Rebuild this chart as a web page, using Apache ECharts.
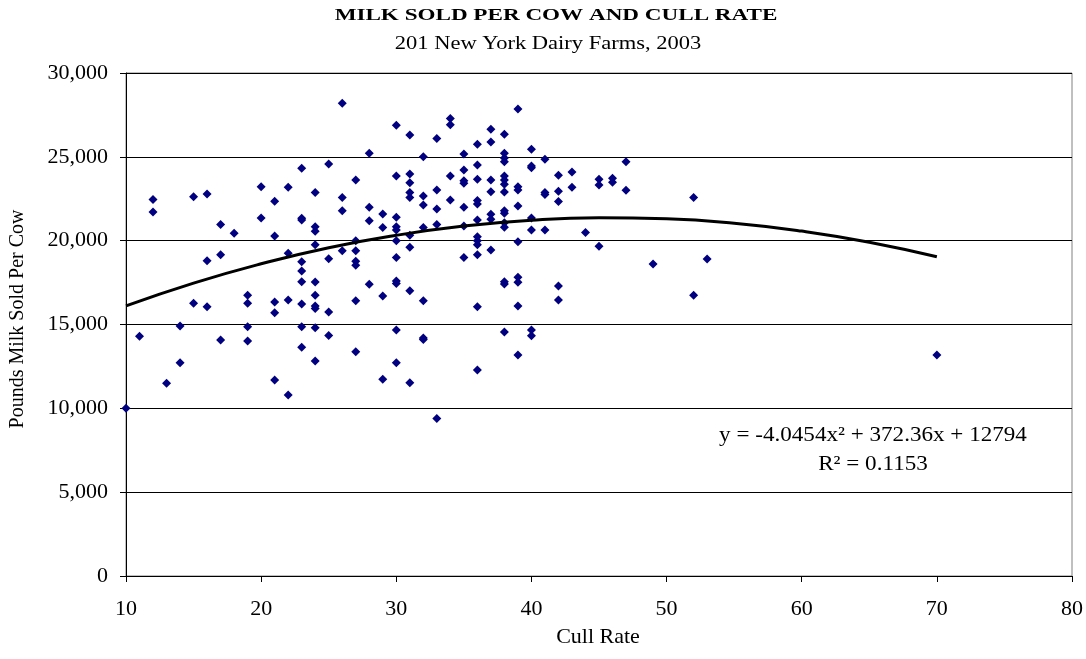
<!DOCTYPE html>
<html>
<head>
<meta charset="utf-8">
<script src="https://cdn.jsdelivr.net/npm/echarts@6/dist/echarts.min.js"></script>
<style>html,body{margin:0;padding:0;background:#fff}#c{width:1086px;height:659px}</style>
</head>
<body>
<div id="c"></div>
<script>
// Farm data: [cull rate, pounds milk sold per cow]
const cullRate = [
10,11,12,12,13,14,14,15,15,16,16,16,17,17,17,18,19,19,19,19,20,20,
21,21,21,21,21,22,22,22,22,
23,23,23,23,23,23,23,23,23,
24,24,24,24,24,24,24,24,24,24,
25,25,25,25,26,26,26,26,
27,27,27,27,27,27,27,28,28,28,28,29,29,29,29,
30,30,30,30,30,30,30,30,30,30,30,
31,31,31,31,31,31,31,31,31,
32,32,32,32,32,32,32,33,33,33,33,33,34,34,34,34,
35,35,35,35,35,35,35,
36,36,36,36,36,36,36,36,36,36,36,36,
37,37,37,37,37,37,37,
38,38,38,38,38,38,38,38,38,38,38,38,38,38,38,
39,39,39,39,39,39,39,39,39,
40,40,40,40,40,40,40,41,41,41,41,42,42,42,42,42,43,43,44,45,45,45,46,46,47,47,49,52,52,53,70
];
const milkPerCow = [
10000,14300,22460,21710,11490,14910,12720,22620,16260,22780,18800,16060,20970,19160,14080,20440,16740,16260,14870,14020,23220,21350,
22350,20280,16340,15700,11690,23180,19250,16460,10800,
24320,21330,21230,18750,18190,17550,16220,14870,13640,
22880,20830,20560,19760,17530,16740,16100,15960,14810,12820,
24570,18920,15750,14350,28190,22580,21790,19400,
23620,20000,19400,18770,18530,16420,13380,25210,21990,21190,17400,21590,20780,16700,11730,
26880,23860,21390,20830,20640,20000,18990,17590,17450,14670,12720,
26300,23980,23460,22880,22580,20320,19600,17020,11530,
25010,22660,22130,20780,16420,14200,14100,26100,23020,21890,20970,9400,27280,26920,23860,22430,
25170,24210,23580,23420,21990,20870,18990,
25750,24510,23660,22390,22190,21230,20240,20000,19760,19160,16060,12290,
26640,25880,23620,22920,21570,21270,19440,
26340,25210,24930,24710,23860,23620,23360,22900,21790,21630,21070,20800,17550,17420,14550,
27850,23220,23020,22070,19940,17820,17520,16100,13180,
25450,24450,24350,21350,20640,14670,14330,24850,22880,22760,20640,23900,22940,22330,17300,16460,24100,23180,20480,23660,23320,19660,23720,23480,24710,23000,18610,22580,16740,18900,13180
];
// Quadratic trend line values
const trendX = [10,15,20,25,30,35,40,45,50,55,60,65,70];
const trendY = [16110,17470,18620,19580,20320,20870,21220,21360,21300,21040,20570,19910,19040];
const yTicks = [0,5000,10000,15000,20000,25000,30000];
const xTicks = [10,20,30,40,50,60,70,80];

const scatterData = cullRate.map((x,i)=>[x, milkPerCow[i]]);
const trendData = trendX.map((x,i)=>[x, trendY[i]]);

const serif = '"Liberation Serif","Times New Roman",serif';
const chart = echarts.init(document.getElementById('c'));
chart.setOption({
  animation:false,
  backgroundColor:'#fff',
  grid:{left:126,right:14,top:73,bottom:83,show:true,borderColor:'#808080',borderWidth:1,backgroundColor:'#fff'},
  xAxis:{
    type:'value',min:xTicks[0],max:xTicks[xTicks.length-1],interval:10,
    axisLine:{lineStyle:{color:'#000',width:1}},
    axisTick:{show:true,length:6,lineStyle:{color:'#000'}},
    axisLabel:{fontFamily:serif,fontSize:22,color:'#000',margin:22},
    splitLine:{show:false}
  },
  yAxis:{
    type:'value',min:yTicks[0],max:yTicks[yTicks.length-1],interval:5000,
    axisLine:{show:true,lineStyle:{color:'#000',width:1}},
    axisTick:{show:true,length:6,lineStyle:{color:'#000'}},
    axisLabel:{fontFamily:serif,fontSize:22,color:'#000',margin:18,
      formatter:v=>v.toLocaleString('en-US')},
    splitLine:{show:true,lineStyle:{color:'#000',width:1}}
  },
  series:[
    {type:'scatter',data:scatterData,symbol:'diamond',symbolSize:9,
     itemStyle:{color:'#000080',opacity:1},z:3},
    {type:'line',data:trendData,smooth:true,showSymbol:false,symbol:'none',
     lineStyle:{color:'#000',width:3},z:4}
  ],
  graphic:[
    {type:'text',x:556,y:16,scaleX:1.36,z:10,style:{
      text:'MILK SOLD PER COW AND CULL RATE',
      font:'bold 17px '+serif,fill:'#000',align:'center',verticalAlign:'middle'}},
    {type:'text',x:548,y:44,scaleX:1.25,z:10,style:{
      text:'201 New York Dairy Farms, 2003',
      font:'18px '+serif,fill:'#000',align:'center',verticalAlign:'middle'}},
    {type:'text',x:598,y:637,z:10,style:{
      text:'Cull Rate',
      font:'22px '+serif,fill:'#000',align:'center',verticalAlign:'middle'}},
    {type:'text',x:18,y:319,rotation:Math.PI/2,z:10,style:{
      text:'Pounds Milk Sold Per Cow',
      font:'20px '+serif,fill:'#000',align:'center',verticalAlign:'middle'}},
    {type:'text',x:873,y:435,scaleX:1.1,z:10,style:{
      text:'y = -4.0454x² + 372.36x + 12794',
      font:'21px '+serif,fill:'#000',align:'center',verticalAlign:'middle'}},
    {type:'text',x:873,y:464,scaleX:1.1,z:10,style:{
      text:'R² = 0.1153',
      font:'21px '+serif,fill:'#000',align:'center',verticalAlign:'middle'}}
  ]
});
</script>
</body>
</html>
